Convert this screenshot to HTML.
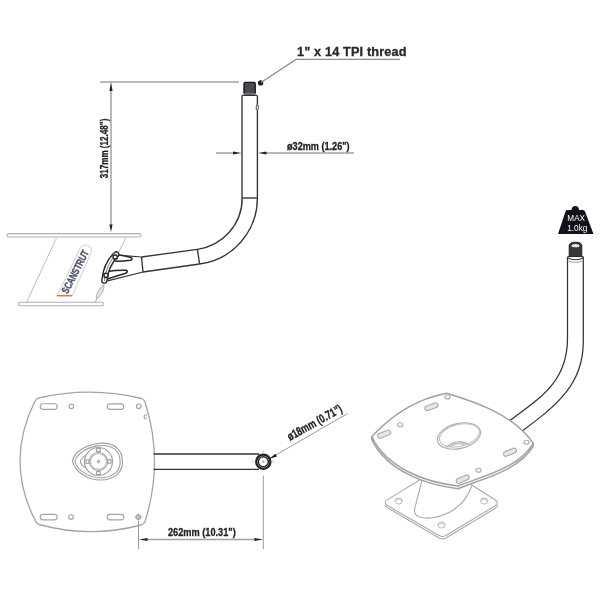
<!DOCTYPE html>
<html><head><meta charset="utf-8">
<style>
html,body{margin:0;padding:0;background:#fff;width:600px;height:600px;overflow:hidden}
svg{display:block;will-change:transform}
text{font-family:"Liberation Sans",sans-serif;font-weight:bold}
.dim{stroke:#1e1e1e;stroke-width:0.3}
</style></head>
<body>
<svg width="600" height="600" viewBox="0 0 600 600">
<rect width="600" height="600" fill="#fff"/>

<!-- ============ TOP LEFT DRAWING ============ -->
<g id="tl">
  <!-- plates -->
  <rect x="7" y="233.6" width="134" height="3.4" rx="1.7" fill="#fff" stroke="#b0b0b0" stroke-width="1.1"/>
  <rect x="18.5" y="302.2" width="85" height="3.6" rx="1.8" fill="#fff" stroke="#b0b0b0" stroke-width="1.1"/>
  <!-- diagonal body -->
  <line x1="56.7" y1="237.5" x2="26.7" y2="302" stroke="#b5b5b5" stroke-width="0.9"/>
  <line x1="126" y1="237.5" x2="111" y2="268" stroke="#b5b5b5" stroke-width="0.9"/>
  <!-- logo label -->
  <path d="M56.8 296.2 L80.2 248.5 Q84.5 242.5 90 246.5 Q92.5 249.5 91.2 252.5 L72 296.2 Z" fill="#fff" stroke="#c8c8c8" stroke-width="0.9"/>
  <line x1="57" y1="295.6" x2="72" y2="295.6" stroke="#ee6a48" stroke-width="1.3"/>
  <text x="0" y="0" font-size="10.5" fill="#4d5269" stroke="#4d5269" stroke-width="0.35" transform="translate(67.6,294.4) rotate(-62.7) scale(0.75,1)" letter-spacing="-0.2">SCANSTRUT</text>
  <!-- leaf -->
  <path d="M104 284.5 Q104.8 292 96.5 299.5 Q95.2 292 104 284.5 Z" fill="#e2e2e2" stroke="#aaa" stroke-width="0.9"/><line x1="96.5" y1="299.5" x2="95.2" y2="302.2" stroke="#aaa" stroke-width="0.9"/>

  <!-- extension line top -->
  <line x1="100" y1="82" x2="239" y2="82" stroke="#a4a0a0" stroke-width="1.5"/>
  <!-- vertical dimension -->
  <line x1="111" y1="88" x2="111" y2="226" stroke="#a4a0a0" stroke-width="1.5"/>
  <path d="M111 82 L112.6 91 L109.4 91 Z" fill="#222"/>
  <path d="M111 232 L112.6 224.5 L109.4 224.5 Z" fill="#222"/>
  <text class="dim" font-size="11.5" fill="#222" text-anchor="middle" transform="translate(107.6,148.5) rotate(-90) scale(0.705,1)">317mm (12.48")</text>

  <!-- leader + label -->
  <circle cx="260.6" cy="82.9" r="2.7" fill="#222"/>
  <polyline points="261,82.5 296,59.4 400,59.4" fill="none" stroke="#8c8c8c" stroke-width="1.2"/>
  <text class="dim" x="297" y="56.4" font-size="12.7" letter-spacing="0.15" fill="#2a2a2a">1" x 14 TPI thread</text>

  <!-- thread -->
  <rect x="244" y="82.4" width="11.2" height="11.6" rx="1.3" fill="#4a4a52" stroke="#16161e" stroke-width="1.4"/><line x1="244.5" y1="93.8" x2="254.7" y2="93.8" stroke="#c8c8c8" stroke-width="0.8"/>

  <!-- tube -->
  <g fill="none" stroke="#333" stroke-width="1.35">
    <path d="M242 198 L242 96 Q242 95.3 243 95.3 L256.4 95.3 Q257.4 95.3 257.4 96.3 L257.4 198"/>
    <line x1="242" y1="198" x2="257.4" y2="198"/>
    <path d="M242.2 198 C242.2 225 222 246 197.4 249.3"/>
    <path d="M257.4 198 C257.4 232 232 260 199.6 264"/>
    <line x1="197.4" y1="249.3" x2="199.6" y2="264"/>
    <line x1="197.4" y1="249.3" x2="141.5" y2="257"/>
    <line x1="199.6" y1="264" x2="143" y2="272"/>
    <line x1="141.5" y1="257" x2="143" y2="272"/>
  </g>
  <ellipse cx="257.3" cy="107.5" rx="1.1" ry="2.8" fill="#fff" stroke="#333" stroke-width="0.9"/>

  <!-- bracket -->
  <g fill="none" stroke-linecap="round" stroke-linejoin="round">
    <path d="M115.5 261.3 Q124 261.2 130.5 260.3 Q133 259 131.2 257.5 Q124 255.3 117 254.8" stroke="#262626" stroke-width="1.6"/>
    <path d="M107 271.5 Q117 270 126.5 270.3 Q128.3 271.8 125.8 273.3 Q116 276.2 107.5 279" stroke="#262626" stroke-width="1.6"/>
    <path d="M116.2 254.6 Q106 264 104.4 280.5" stroke="#262626" stroke-width="6.6"/>
    <path d="M116.2 254.6 Q106 264 104.4 280.5" stroke="#fff" stroke-width="3.8"/>
    <path d="M116.2 254.6 Q106 264 104.4 280.5" stroke="#555" stroke-width="0.8"/>
    <circle cx="115.2" cy="257" r="2.1" fill="#fff" stroke="#262626" stroke-width="1.5"/>
    <circle cx="106" cy="275.3" r="2.1" fill="#fff" stroke="#262626" stroke-width="1.5"/>
  </g>
  <g fill="none" stroke="#333" stroke-width="1.2">
    <line x1="121" y1="255.4" x2="141.5" y2="257"/>
    <line x1="107.5" y1="280.8" x2="143" y2="272"/>
  </g>

  <!-- diameter dimension -->
  <line x1="216" y1="153" x2="234" y2="153" stroke="#a4a0a0" stroke-width="1.5"/>
  <path d="M241.5 153 L233 151.5 L233 154.5 Z" fill="#222"/>
  <line x1="265" y1="153" x2="354" y2="153" stroke="#a4a0a0" stroke-width="1.5"/>
  <path d="M258 153 L266.5 151.5 L266.5 154.5 Z" fill="#222"/>
  <text class="dim" font-size="11" fill="#222" transform="translate(287,149.7) scale(0.83,1)">ø32mm (1.26")</text>
</g>

<!-- ============ RIGHT 3D DRAWING ============ -->
<g id="r">
  <!-- weight icon -->
  <path d="M567 210 L583 210 Q584.5 210 585 211.5 L593.5 234 L558 234 L565.5 211.5 Q566 210 567 210 Z" fill="#121218"/>
  <path d="M571.5 210.5 Q571.6 206.2 575.3 206 Q579 206.2 579.1 210.5 Z" fill="#121218"/>
  <text x="576.2" y="220.6" font-size="8.2" fill="#fff" text-anchor="middle" style="font-weight:normal" transform="translate(576.2,0) scale(1.0,1) translate(-576.2,0)">MAX</text>
  <text x="577.3" y="230.6" font-size="8.2" fill="#fff" text-anchor="middle" style="font-weight:normal" transform="translate(577.3,0) scale(1.0,1) translate(-577.3,0)">1.0kg</text>

  <!-- tube -->
  <g fill="none" stroke="#333" stroke-width="1.25">
    <path d="M567.5 256.8 L567.5 338 C567.5 381.5 541.1 397.2 509.6 420.8"/>
    <path d="M583.3 256.8 L583.3 342 C583.3 385.5 554.7 406.7 522.5 430.8"/>
  </g>
  <path d="M569.2 256.5 L569.2 245.5 Q569.5 242.2 575.5 242.2 Q581.5 242.2 581.8 245.5 L581.8 256.5 Z" fill="#383838" stroke="#262626" stroke-width="1"/>
  <ellipse cx="575.5" cy="245.7" rx="4" ry="1.6" fill="#e8e8e8"/>
  <path d="M567.6 256.8 Q575.5 253.5 583.4 256.8" fill="none" stroke="#333" stroke-width="1"/>
  <path d="M567.6 257.8 Q575.5 261.8 583.4 257.8" fill="none" stroke="#333" stroke-width="1.1"/>
  <path d="M567.8 260.8 Q575.5 264 583.2 260.8" fill="none" stroke="#888" stroke-width="0.8"/>

  <!-- base plate -->
  <g stroke="#aaa" stroke-width="1.1" fill="#fff" stroke-linejoin="round">
    <path d="M385 505 Q386 507 388 508 L439.5 538.2 Q442.5 539.6 445.5 538.2 L495 508.5 Q497.5 507 497.8 505" fill="none"/>
    <path d="M387.5 499.6 L440 467.5 Q442 466.5 444 467.5 L495 499.8 Q499.5 503 495 506 L445.5 535.8 Q442.5 537.3 439.5 535.8 L387.5 505.6 Q383 502.6 387.5 499.6 Z"/>
  </g>
  <g stroke="#b4b4b4" stroke-width="0.9" fill="#fff">
    <ellipse cx="398.8" cy="501.0" rx="3.6" ry="3" />
    <path d="M395.5 501.3 Q398.8 496.5 402.1 501.3" fill="none"/>
    <ellipse cx="484.2" cy="501.0" rx="3.6" ry="3" />
    <path d="M480.9 501.3 Q484.2 496.5 487.5 501.3" fill="none"/>
    <ellipse cx="441.5" cy="525.0" rx="3.6" ry="3" />
    <path d="M438.2 525.3 Q441.5 520.5 444.8 525.3" fill="none"/>
    </g>
  <!-- pedestal -->
  <path d="M422.7 478 Q418 495 414.4 510 Q414 517 424 518 Q436 519 450 512 Q466 503 471.7 486" fill="#fff" stroke="#aaa" stroke-width="1.1"/>

  <!-- top plate -->
  <g fill="#fff" stroke="#a4a0a0" stroke-width="1.5" stroke-linejoin="round">
    <path d="M533.3 443.3 L533.3 446 C518.1 471.1 483.8 478.1 458 488.7 C425.1 484.8 386.9 471 371.7 439.4 L371.7 436.7" fill="#fff"/>
    <path d="M371.7 436.7 C391.7 414.9 417.9 398.6 446.7 393.2 C477.8 402.5 514.3 415.6 533.3 443.3 C518.1 468.6 483.8 475.6 458.0 486.0 C425.1 482.1 386.9 468.3 371.7 436.7 Z"/>
  </g>
  <g fill="#e6e6e6" stroke="#aaa" stroke-width="1.1">
    <rect x="-6.8" y="-2.4" width="13.6" height="4.8" rx="2.4" transform="translate(431.4,406.7) rotate(-20)"/>
    <rect x="-6.8" y="-2.4" width="13.6" height="4.8" rx="2.4" transform="translate(384.1,434.1) rotate(-22)"/>
    <rect x="-6.8" y="-2.4" width="13.6" height="4.8" rx="2.4" transform="translate(510,452.2) rotate(-22)"/>
    <rect x="-6.8" y="-2.4" width="13.6" height="4.8" rx="2.4" transform="translate(462.7,479.2) rotate(-24)"/>
    <ellipse cx="447.5" cy="397" rx="2.6" ry="2" fill="#fff"/>
    <ellipse cx="400.2" cy="424.7" rx="2.6" ry="2" fill="#fff"/>
    <ellipse cx="526.5" cy="442.2" rx="2.6" ry="2" fill="#fff"/>
    <ellipse cx="478.5" cy="470.2" rx="2.6" ry="2" fill="#fff"/>
    <ellipse cx="459" cy="436" rx="22" ry="12.5" transform="rotate(-14 459 436)" fill="#fff"/>
    <ellipse cx="459.4" cy="435.4" rx="20.4" ry="10.9" transform="rotate(-14 459.4 435.4)" stroke="#c0c0c0" fill="#fff"/>
    <path d="M446 447.5 Q457 437.5 469 444.5" fill="none" stroke="#b0b0b0"/>
    <path d="M450 446.5 Q457.5 441.5 465 444.5" fill="none" stroke="#c0c0c0" stroke-width="1.6"/>
  </g>
</g>

<!-- ============ BOTTOM LEFT DRAWING ============ -->
<g id="bl">
  <path d="M38.5 398 Q90 386 141.5 398.5 Q144 399.5 145 402 Q164 461.3 145 521.5 Q144 524 141 525 Q90 538.6 39 524.5 Q36.5 523.5 35.5 521 Q4.75 461.7 35 401 Q36 399 38.5 398 Z" fill="#fff" stroke="#a4a4a4" stroke-width="1.3"/>
  <g fill="#fff" stroke="#a4a4a4" stroke-width="1.15">
    <rect x="40.2" y="403.7" width="17" height="5.6" rx="2.8"/>
    <rect x="107.2" y="403.8" width="16.6" height="5.6" rx="2.8"/>
    <rect x="40.2" y="514.3" width="17" height="5.6" rx="2.8"/>
    <rect x="107.2" y="514.3" width="16.6" height="5.6" rx="2.8"/>
    <circle cx="71.3" cy="406.3" r="2.3"/>
    <circle cx="138.7" cy="406.3" r="2.3"/>
    <circle cx="71" cy="517" r="2.3"/>
    <circle cx="138.3" cy="517" r="2.3"/>
    <path d="M147 414.5 Q144 415 144 417 Q144.5 419 147 419" fill="none"/>
  </g>
  <!-- rotator -->
  <g fill="none" stroke="#a0a0a0" stroke-width="1.1">
    <path d="M72.4 461.3 C74 453 84 445 99 443.3 C115 442 122.5 450 122.5 462 C122.5 473 113 480 101 480 C88 480 75 472 72.4 461.3 Z" stroke-width="1.2"/>
    <path d="M74.9 461.3 C76.5 454.5 86 447.2 99.2 445.6 C113.5 444.5 120.2 451.5 120.2 462 C120.2 471.5 112 477.7 101 477.7 C89 477.7 77.5 471 74.9 461.3 Z"/>
    <circle cx="98.5" cy="461.5" r="14" stroke-width="1.2"/>
    <circle cx="98.5" cy="461.5" r="9"/>
    <circle cx="98.5" cy="461.5" r="7.8" stroke-width="0.7"/>
    <circle cx="98.5" cy="461.5" r="1.1"/>
    <path d="M85.4 455.6 Q75.5 461.5 85.4 467.6" stroke-width="1.1"/>
    <rect x="96.7" y="448.4" width="3.6" height="3"/>
    <rect x="96.7" y="471.6" width="3.6" height="3"/>
    <rect x="86" y="459.7" width="3" height="3.6"/>
    <rect x="108" y="459.7" width="3" height="3.6"/>
  </g>
  <!-- arm -->
  <g stroke="#333" stroke-width="1.4" fill="none">
    <line x1="153.7" y1="454" x2="259" y2="454"/>
    <line x1="153.7" y1="469.4" x2="259" y2="469.4"/>
  </g>
  <circle cx="263.3" cy="461.7" r="7.1" fill="#fff" stroke="#222" stroke-width="2.3"/>
  <circle cx="263.3" cy="461.7" r="5" fill="#fff" stroke="#2a2a2a" stroke-width="1.5"/>
  <g stroke="#aaa" stroke-width="0.8">
    <line x1="261.8" y1="461.7" x2="264.8" y2="461.7"/>
    <line x1="263.3" y1="460.2" x2="263.3" y2="463.2"/>
    <line x1="252" y1="461.7" x2="254" y2="461.7"/>
    <line x1="272.5" y1="461.7" x2="274.5" y2="461.7"/>
    <line x1="263.3" y1="450.5" x2="263.3" y2="452.5"/>
  </g>
  <!-- crosshair hole -->
  <g stroke="#999" stroke-width="0.8">
    <line x1="134.5" y1="517" x2="142.1" y2="517"/>
    <line x1="138.3" y1="513.2" x2="138.3" y2="520.8"/>
  </g>
  <!-- extension lines -->
  <line x1="138.5" y1="521" x2="138.5" y2="549" stroke="#999" stroke-width="1"/>
  <line x1="263.3" y1="475.5" x2="263.3" y2="549" stroke="#999" stroke-width="1"/>
  <!-- dim line -->
  <line x1="146" y1="539.5" x2="256" y2="539.5" stroke="#a4a0a0" stroke-width="1.5"/>
  <path d="M139 539.5 L147.5 538 L147.5 541 Z" fill="#222"/>
  <path d="M263 539.5 L254.5 538 L254.5 541 Z" fill="#222"/>
  <text class="dim" font-size="11.5" fill="#222" transform="translate(168,536.3) scale(0.8,1)">262mm (10.31")</text>
  <!-- leader -->
  <line x1="270" y1="458.3" x2="347.3" y2="413.7" stroke="#999" stroke-width="1"/>
  <path d="M268.8 459 L275.5 453.8 L277 456.6 Z" fill="#222"/>
  <text class="dim" font-size="12" fill="#222" transform="translate(290,441) rotate(-29.2) scale(0.74,1)">ø18mm (0.71")</text>
</g>

</svg>
</body></html>
